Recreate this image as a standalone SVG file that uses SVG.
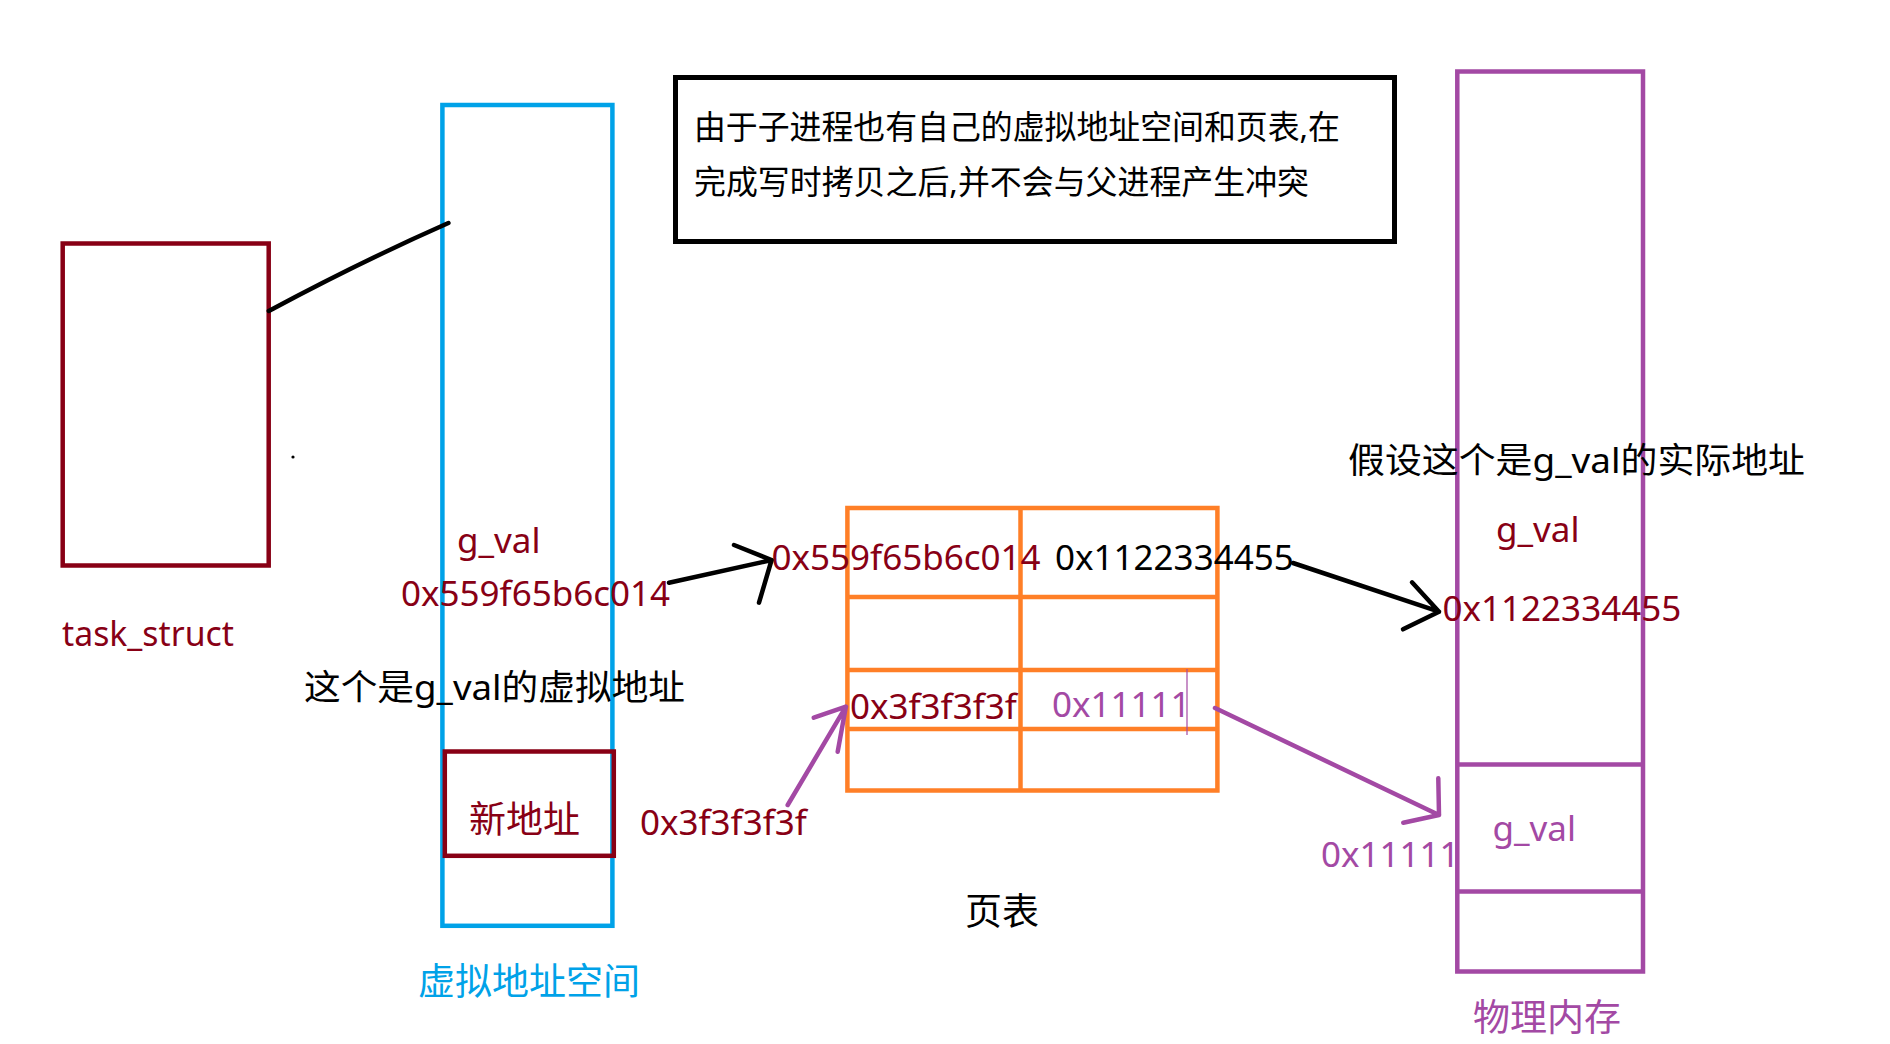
<svg xmlns="http://www.w3.org/2000/svg" width="1890" height="1044" viewBox="0 0 1890 1044">
<style>
  text { font-family: "Noto Sans", "Open Sans", "Noto Sans CJK SC", sans-serif; }
  .red { fill: #880015; }
  .blk { fill: #000000; }
  .pur { fill: #A349A4; }
  .blu { fill: #00A2E8; }
  .lat { font-size: 35px; }
  .cjk { font-size: 35px; }
  .cap { font-size: 37px; }
  .box { fill: none; stroke-width: 4.5; }
  .c-black { fill: none; stroke: #000; stroke-width: 4.5; stroke-linecap: round; stroke-linejoin: round; }
  .c-pur { fill: none; stroke: #A349A4; stroke-width: 4.5; stroke-linecap: round; stroke-linejoin: round; }
</style>
<rect width="1890" height="1044" fill="#ffffff"/>

<g id="task_struct">
  <rect class="box" x="62.7" y="243.5" width="206" height="322" stroke="#880015"/>
  <text class="red lat" x="62" y="646" textLength="172" lengthAdjust="spacingAndGlyphs">task_struct</text>
</g>

<g id="virtual-address-space">
  <rect class="box" x="442.4" y="105" width="170" height="820.8" stroke="#00A2E8"/>
  <text class="red lat" x="457" y="553">g_val</text>
  <text class="red lat" x="401" y="606">0x559f65b6c014</text>
  <text class="blu cap" x="418" y="995">虚拟地址空间</text>
</g>

<g id="new-address">
  <rect class="box" x="444.8" y="751.5" width="169" height="104.3" stroke="#880015"/>
  <text class="red cap" x="469" y="833">新地址</text>
</g>

<g id="note">
  <rect x="675.5" y="77.5" width="719" height="164" fill="none" stroke="#000" stroke-width="5"/>
  <text class="blk" font-size="33" x="694" y="139" textLength="646" lengthAdjust="spacingAndGlyphs">由于子进程也有自己的虚拟地址空间和页表,在</text>
  <text class="blk" font-size="33" x="694" y="194" textLength="615" lengthAdjust="spacingAndGlyphs">完成写时拷贝之后,并不会与父进程产生冲突</text>
</g>

<g id="page-table">
  <g fill="none" stroke="#FF7F27" stroke-width="4.5">
    <rect x="847.4" y="508" width="370" height="282.5"/>
    <line x1="1020.5" y1="508" x2="1020.5" y2="790.5"/>
    <line x1="847.4" y1="597" x2="1217.4" y2="597"/>
    <line x1="847.4" y1="670" x2="1217.4" y2="670"/>
    <line x1="847.4" y1="729" x2="1217.4" y2="729"/>
  </g>
  <text class="red lat" x="771.5" y="570">0x559f65b6c014</text>
  <text class="blk lat" x="1055" y="570">0x1122334455</text>
  <text class="red lat" x="850" y="719">0x3f3f3f3f</text>
  <text class="pur lat" x="1052" y="717">0x11111</text>
  <line x1="1187" y1="669" x2="1187" y2="735" stroke="#A349A4" stroke-width="1.2"/>
  <text class="blk cap" x="965" y="925">页表</text>
</g>

<g id="physical-memory">
  <g fill="none" stroke="#A349A4" stroke-width="4.5">
    <rect x="1457.3" y="71.5" width="185.7" height="900"/>
    <line x1="1457.3" y1="764.5" x2="1643" y2="764.5"/>
    <line x1="1457.3" y1="891.5" x2="1643" y2="891.5"/>
  </g>
  <text class="red lat" x="1496" y="542">g_val</text>
  <text class="red lat" x="1442.5" y="621">0x1122334455</text>
  <text class="pur lat" x="1492.5" y="841">g_val</text>
  <text class="pur cap" x="1473" y="1031">物理内存</text>
</g>

<g id="annotations">
  <text class="blk cjk" x="304" y="700" textLength="381" lengthAdjust="spacingAndGlyphs">这个是g_val的虚拟地址</text>
  <text class="blk cjk" x="1348" y="473" textLength="457" lengthAdjust="spacingAndGlyphs">假设这个是g_val的实际地址</text>
  <text class="red lat" x="640" y="835">0x3f3f3f3f</text>
  <text class="pur lat" x="1321" y="867">0x11111</text>
  <circle cx="293" cy="457" r="1.6" fill="#000"/>
</g>

<g id="connectors">
  <path class="c-black" d="M268.8,311 Q360,262 448.4,223"/>
  <path class="c-black" d="M669,582.7 L771.6,560 M734,545 L771.6,560 L759,602.7"/>
  <path class="c-black" d="M1293,563 L1439,611.7 M1412,582.3 L1439,611.7 L1403,629.3"/>
  <path class="c-pur" d="M787.7,805 L845.9,706.7 M813.8,717.7 L845.9,706.7 L837.7,751.7"/>
  <path class="c-pur" d="M1215,708 L1439,815 M1438.3,778.3 L1439,815 L1403.3,822.7"/>
</g>
</svg>
